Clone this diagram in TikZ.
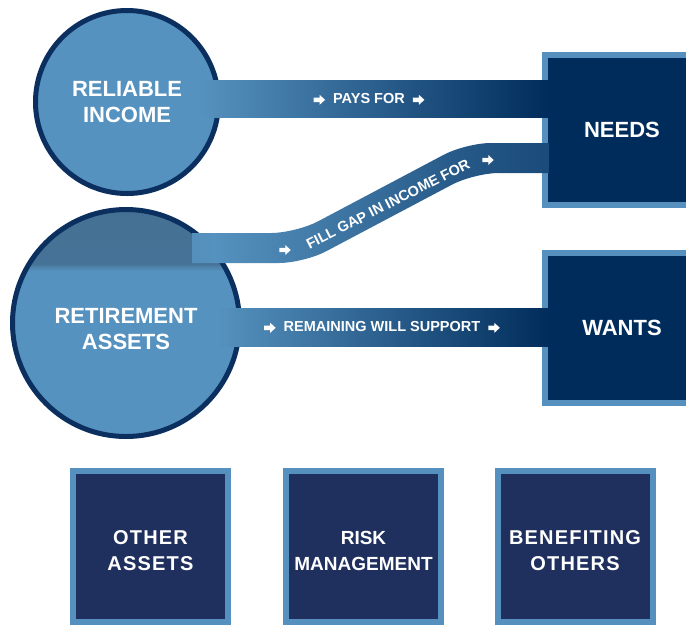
\documentclass[tikz,border=0pt]{standalone}
\usepackage{fontspec}
\setmainfont{Liberation Sans}
\usetikzlibrary{calc}
\definecolor{circfill}{HTML}{5692BF}
\definecolor{circline}{HTML}{0B2F5F}
\definecolor{capfill}{HTML}{4A7AA0}
\definecolor{needfill}{HTML}{002C5B}
\definecolor{boxline}{HTML}{5690BE}
\definecolor{lowfill}{HTML}{1F305E}
\pgfdeclarehorizontalshading{gapband}{100bp}{color(0bp)=(capfill); color(28bp)=(circfill);
  color(62bp)=(circfill!45!needfill); color(100bp)=(needfill)}
\newcommand{\bandarrow}{\tikz[baseline=-3.5pt, x=1pt, y=1pt]\fill[white] (0,-2.2) -- (6,-2.2) -- (6,-5)
  -- (11.5,0) -- (6,5) -- (6,2.2) -- (0,2.2) -- cycle;}
\tikzset{
  source/.style={circle, draw=circline, line width=5pt, fill=circfill, minimum size=183pt,
    inner sep=0pt, text=white, align=center, font=\bfseries\fontsize{22}{26}\selectfont},
  goal/.style={rectangle, draw=boxline, line width=6pt, fill=needfill, minimum width=154pt,
    minimum height=150pt, text=white, align=center, font=\bfseries\fontsize{22}{26}\selectfont},
  other/.style={goal, fill=lowfill, minimum width=155pt, minimum height=151pt, text height=48pt,
    font=\bfseries\fontsize{20}{26}\selectfont\addfontfeatures{LetterSpace=6}},
  bandlabel/.style={text=white, inner sep=0pt, font=\bfseries\fontsize{14.5}{15}\selectfont}
}
\begin{document}
\begin{tikzpicture}[x=1pt, y=-1pt]
  \useasboundingbox (0,0) rectangle (686,625);
  % income sources
  \node[source] (income) at (127,102) {RELIABLE\\INCOME};
  \node[source, minimum size=227pt, text height=54pt, path picture={
      \shade[top color=capfill!92!black, bottom color=capfill]
        (path picture bounding box.north west) rectangle ($(path picture bounding box.east)+(0,-58)$);
      \shade[top color=capfill, bottom color=circfill]
        ($(path picture bounding box.west)+(0,-58)$) rectangle ($(path picture bounding box.east)+(0,-52)$);}]
    (assets) at (126,323) {RETIREMENT\\ASSETS};
  % spending goals
  \node[goal] (needs) at (622,130) {NEEDS};
  \node[goal] (wants) at (622,328) {WANTS};
  \node[other] (otherassets) at (150.5,546.5) {OTHER\\ASSETS};
  \node[other, font=\bfseries\fontsize{19}{26}\selectfont] (risk) at (363.5,546.5) {RISK\\MANAGEMENT};
  \node[other] (benefit) at (575,546.5) {BENEFITING\\OTHERS};
  % bands
  \shade[left color=circfill, right color=needfill]
    ($(income.east)+(-21,-22)$) rectangle ($(needs.west)+(7,-13)$);
  \shade[shading=gapband]
    (192,233) [rounded corners=25pt] -- (296,233) -- (466,143) [sharp corners] -- ($(needs.west)+(7,13)$)
    -- ($(needs.west)+(7,43)$) [rounded corners=25pt] -- (474,173) -- (304,263) [sharp corners] -- (192,263) -- cycle;
  \shade[left color=circfill, right color=needfill]
    ($(assets.east)+(-25,-15)$) rectangle ($(wants.west)+(7,18)$);
  % band labels
  \node[bandlabel] (pays) at (369,99) {\bandarrow\ \ PAYS FOR\ \ \bandarrow};
  \node[bandlabel] (remain) at (382,327) {\bandarrow\ \ REMAINING WILL SUPPORT\ \ \bandarrow};
  \node[bandlabel, rotate=27] (gap) at (388,204) {FILL GAP IN INCOME FOR};
  \node[bandlabel] (gapin) at (285,250) {\bandarrow};
  \node[bandlabel] (gapout) at (488,160) {\bandarrow};
\end{tikzpicture}
\end{document}
